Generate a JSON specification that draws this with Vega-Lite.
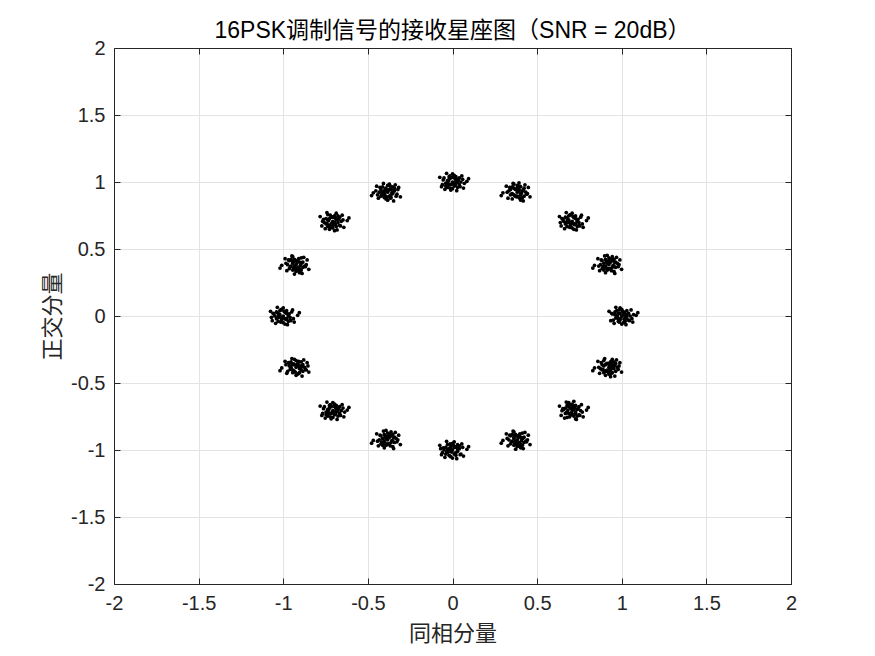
{
"$schema": "https://vega.github.io/schema/vega-lite/v6.json",
"width": 677, "height": 536,
"autosize": {"type": "none"},
"padding": {"left": 114, "top": 48, "right": 84, "bottom": 72},
"background": "white",
"title": {"text": "16PSK调制信号的接收星座图（SNR = 20dB）", "font": "Liberation Sans, Noto Sans CJK SC", "fontSize": 23, "fontWeight": "normal", "color": "#000000", "anchor": "middle", "offset": -5},
"config": {"view": {"stroke": null}, "axis": {"domainColor": "#262626", "tickColor": "#262626", "labelColor": "#262626", "labelFont": "Liberation Sans", "labelFontSize": 20, "labelFlush": false, "gridColor": "#e3e3e3", "gridWidth": 1, "tickSize": -6, "titleFont": "Noto Sans CJK SC", "titleFontSize": 22, "titleFontWeight": "normal", "titleColor": "#262626", "labelExpr": "'' + datum.value"}},
"data": {"values": [
{"x":1,"y":0},{"x":1.02,"y":0.01},{"x":0.98,"y":0.02},{"x":1.03,"y":-0.02},{"x":0.97,"y":-0.01},{"x":1.01,"y":0.03},{"x":0.99,"y":-0.03},{"x":1.04,"y":0.02},{"x":0.96,"y":0.01},{"x":1.02,"y":-0.04},{"x":0.98,"y":-0.02},{"x":1.05,"y":0},{"x":0.95,"y":-0.03},{"x":1,"y":0.05},{"x":1.01,"y":-0.05},{"x":0.97,"y":0.04},{"x":1.03,"y":0.04},{"x":1.06,"y":-0.02},{"x":0.94,"y":0.02},{"x":1.01,"y":0.01},{"x":0.99,"y":0.02},{"x":1.02,"y":-0.01},{"x":0.98,"y":-0.04},{"x":1.04,"y":-0.03},{"x":0.96,"y":0.03},{"x":1.07,"y":0.01},{"x":0.99,"y":0.06},{"x":1,"y":-0.06},{"x":1.03,"y":0},{"x":0.97,"y":0},
{"x":0.924,"y":0.383},{"x":0.914,"y":0.403},{"x":0.904,"y":0.363},{"x":0.944,"y":0.413},{"x":0.934,"y":0.353},{"x":0.894,"y":0.393},{"x":0.954,"y":0.373},{"x":0.904,"y":0.423},{"x":0.914,"y":0.343},{"x":0.964,"y":0.403},{"x":0.944,"y":0.363},{"x":0.924,"y":0.433},{"x":0.954,"y":0.333},{"x":0.874,"y":0.383},{"x":0.974,"y":0.393},{"x":0.884,"y":0.353},{"x":0.884,"y":0.413},{"x":0.944,"y":0.443},{"x":0.904,"y":0.323},{"x":0.914,"y":0.393},{"x":0.904,"y":0.373},{"x":0.934,"y":0.403},{"x":0.964,"y":0.363},{"x":0.954,"y":0.423},{"x":0.894,"y":0.343},{"x":0.914,"y":0.453},{"x":0.864,"y":0.373},{"x":0.984,"y":0.383},{"x":0.924,"y":0.413},{"x":0.924,"y":0.353},
{"x":0.707,"y":0.707},{"x":0.687,"y":0.697},{"x":0.727,"y":0.687},{"x":0.677,"y":0.727},{"x":0.737,"y":0.717},{"x":0.697,"y":0.677},{"x":0.717,"y":0.737},{"x":0.667,"y":0.687},{"x":0.747,"y":0.697},{"x":0.687,"y":0.747},{"x":0.727,"y":0.727},{"x":0.657,"y":0.707},{"x":0.757,"y":0.737},{"x":0.707,"y":0.657},{"x":0.697,"y":0.757},{"x":0.737,"y":0.667},{"x":0.677,"y":0.667},{"x":0.647,"y":0.727},{"x":0.767,"y":0.687},{"x":0.697,"y":0.697},{"x":0.717,"y":0.687},{"x":0.687,"y":0.717},{"x":0.727,"y":0.747},{"x":0.667,"y":0.737},{"x":0.747,"y":0.677},{"x":0.637,"y":0.697},{"x":0.717,"y":0.647},{"x":0.707,"y":0.767},{"x":0.677,"y":0.707},{"x":0.737,"y":0.707},
{"x":0.383,"y":0.924},{"x":0.393,"y":0.944},{"x":0.403,"y":0.904},{"x":0.363,"y":0.954},{"x":0.373,"y":0.894},{"x":0.413,"y":0.934},{"x":0.353,"y":0.914},{"x":0.403,"y":0.964},{"x":0.393,"y":0.884},{"x":0.343,"y":0.944},{"x":0.363,"y":0.904},{"x":0.383,"y":0.974},{"x":0.353,"y":0.874},{"x":0.433,"y":0.924},{"x":0.333,"y":0.934},{"x":0.423,"y":0.894},{"x":0.423,"y":0.954},{"x":0.363,"y":0.984},{"x":0.403,"y":0.864},{"x":0.393,"y":0.934},{"x":0.403,"y":0.914},{"x":0.373,"y":0.944},{"x":0.343,"y":0.904},{"x":0.353,"y":0.964},{"x":0.413,"y":0.884},{"x":0.393,"y":0.994},{"x":0.443,"y":0.914},{"x":0.323,"y":0.924},{"x":0.383,"y":0.954},{"x":0.383,"y":0.894},
{"x":0,"y":1},{"x":0.02,"y":0.99},{"x":-0.02,"y":0.98},{"x":0.03,"y":1.02},{"x":-0.03,"y":1.01},{"x":0.01,"y":0.97},{"x":-0.01,"y":1.03},{"x":0.04,"y":0.98},{"x":-0.04,"y":0.99},{"x":0.02,"y":1.04},{"x":-0.02,"y":1.02},{"x":0.05,"y":1},{"x":-0.05,"y":1.03},{"x":0,"y":0.95},{"x":0.01,"y":1.05},{"x":-0.03,"y":0.96},{"x":0.03,"y":0.96},{"x":0.06,"y":1.02},{"x":-0.06,"y":0.98},{"x":0.01,"y":0.99},{"x":-0.01,"y":0.98},{"x":0.02,"y":1.01},{"x":-0.02,"y":1.04},{"x":0.04,"y":1.03},{"x":-0.04,"y":0.97},{"x":0.07,"y":0.99},{"x":-0.01,"y":0.94},{"x":0,"y":1.06},{"x":0.03,"y":1},{"x":-0.03,"y":1},
{"x":-0.383,"y":0.924},{"x":-0.403,"y":0.934},{"x":-0.363,"y":0.944},{"x":-0.413,"y":0.904},{"x":-0.353,"y":0.914},{"x":-0.393,"y":0.954},{"x":-0.373,"y":0.894},{"x":-0.423,"y":0.944},{"x":-0.343,"y":0.934},{"x":-0.403,"y":0.884},{"x":-0.363,"y":0.904},{"x":-0.433,"y":0.924},{"x":-0.333,"y":0.894},{"x":-0.383,"y":0.974},{"x":-0.393,"y":0.874},{"x":-0.353,"y":0.964},{"x":-0.413,"y":0.964},{"x":-0.443,"y":0.904},{"x":-0.323,"y":0.944},{"x":-0.393,"y":0.934},{"x":-0.373,"y":0.944},{"x":-0.403,"y":0.914},{"x":-0.363,"y":0.884},{"x":-0.423,"y":0.894},{"x":-0.343,"y":0.954},{"x":-0.453,"y":0.934},{"x":-0.373,"y":0.984},{"x":-0.383,"y":0.864},{"x":-0.413,"y":0.924},{"x":-0.353,"y":0.924},
{"x":-0.707,"y":0.707},{"x":-0.697,"y":0.687},{"x":-0.687,"y":0.727},{"x":-0.727,"y":0.677},{"x":-0.717,"y":0.737},{"x":-0.677,"y":0.697},{"x":-0.737,"y":0.717},{"x":-0.687,"y":0.667},{"x":-0.697,"y":0.747},{"x":-0.747,"y":0.687},{"x":-0.727,"y":0.727},{"x":-0.707,"y":0.657},{"x":-0.737,"y":0.757},{"x":-0.657,"y":0.707},{"x":-0.757,"y":0.697},{"x":-0.667,"y":0.737},{"x":-0.667,"y":0.677},{"x":-0.727,"y":0.647},{"x":-0.687,"y":0.767},{"x":-0.697,"y":0.697},{"x":-0.687,"y":0.717},{"x":-0.717,"y":0.687},{"x":-0.747,"y":0.727},{"x":-0.737,"y":0.667},{"x":-0.677,"y":0.747},{"x":-0.697,"y":0.637},{"x":-0.647,"y":0.717},{"x":-0.767,"y":0.707},{"x":-0.707,"y":0.677},{"x":-0.707,"y":0.737},
{"x":-0.924,"y":0.383},{"x":-0.934,"y":0.363},{"x":-0.944,"y":0.403},{"x":-0.904,"y":0.353},{"x":-0.914,"y":0.413},{"x":-0.954,"y":0.373},{"x":-0.894,"y":0.393},{"x":-0.944,"y":0.343},{"x":-0.934,"y":0.423},{"x":-0.884,"y":0.363},{"x":-0.904,"y":0.403},{"x":-0.924,"y":0.333},{"x":-0.894,"y":0.433},{"x":-0.974,"y":0.383},{"x":-0.874,"y":0.373},{"x":-0.964,"y":0.413},{"x":-0.964,"y":0.353},{"x":-0.904,"y":0.323},{"x":-0.944,"y":0.443},{"x":-0.934,"y":0.373},{"x":-0.944,"y":0.393},{"x":-0.914,"y":0.363},{"x":-0.884,"y":0.403},{"x":-0.894,"y":0.343},{"x":-0.954,"y":0.423},{"x":-0.934,"y":0.313},{"x":-0.984,"y":0.393},{"x":-0.864,"y":0.383},{"x":-0.924,"y":0.353},{"x":-0.924,"y":0.413},
{"x":-1,"y":0},{"x":-1.02,"y":-0.01},{"x":-0.98,"y":-0.02},{"x":-1.03,"y":0.02},{"x":-0.97,"y":0.01},{"x":-1.01,"y":-0.03},{"x":-0.99,"y":0.03},{"x":-1.04,"y":-0.02},{"x":-0.96,"y":-0.01},{"x":-1.02,"y":0.04},{"x":-0.98,"y":0.02},{"x":-1.05,"y":0},{"x":-0.95,"y":0.03},{"x":-1,"y":-0.05},{"x":-1.01,"y":0.05},{"x":-0.97,"y":-0.04},{"x":-1.03,"y":-0.04},{"x":-1.06,"y":0.02},{"x":-0.94,"y":-0.02},{"x":-1.01,"y":-0.01},{"x":-0.99,"y":-0.02},{"x":-1.02,"y":0.01},{"x":-0.98,"y":0.04},{"x":-1.04,"y":0.03},{"x":-0.96,"y":-0.03},{"x":-1.07,"y":-0.01},{"x":-0.99,"y":-0.06},{"x":-1,"y":0.06},{"x":-1.03,"y":0},{"x":-0.97,"y":0},
{"x":-0.924,"y":-0.383},{"x":-0.904,"y":-0.373},{"x":-0.944,"y":-0.363},{"x":-0.894,"y":-0.403},{"x":-0.954,"y":-0.393},{"x":-0.914,"y":-0.353},{"x":-0.934,"y":-0.413},{"x":-0.884,"y":-0.363},{"x":-0.964,"y":-0.373},{"x":-0.904,"y":-0.423},{"x":-0.944,"y":-0.403},{"x":-0.874,"y":-0.383},{"x":-0.974,"y":-0.413},{"x":-0.924,"y":-0.333},{"x":-0.914,"y":-0.433},{"x":-0.954,"y":-0.343},{"x":-0.894,"y":-0.343},{"x":-0.864,"y":-0.403},{"x":-0.984,"y":-0.363},{"x":-0.914,"y":-0.373},{"x":-0.934,"y":-0.363},{"x":-0.904,"y":-0.393},{"x":-0.944,"y":-0.423},{"x":-0.884,"y":-0.413},{"x":-0.964,"y":-0.353},{"x":-0.854,"y":-0.373},{"x":-0.934,"y":-0.323},{"x":-0.924,"y":-0.443},{"x":-0.894,"y":-0.383},{"x":-0.954,"y":-0.383},
{"x":-0.707,"y":-0.707},{"x":-0.687,"y":-0.717},{"x":-0.727,"y":-0.727},{"x":-0.677,"y":-0.687},{"x":-0.737,"y":-0.697},{"x":-0.697,"y":-0.737},{"x":-0.717,"y":-0.677},{"x":-0.667,"y":-0.727},{"x":-0.747,"y":-0.717},{"x":-0.687,"y":-0.667},{"x":-0.727,"y":-0.687},{"x":-0.657,"y":-0.707},{"x":-0.757,"y":-0.677},{"x":-0.707,"y":-0.757},{"x":-0.697,"y":-0.657},{"x":-0.737,"y":-0.747},{"x":-0.677,"y":-0.747},{"x":-0.647,"y":-0.687},{"x":-0.767,"y":-0.727},{"x":-0.697,"y":-0.717},{"x":-0.717,"y":-0.727},{"x":-0.687,"y":-0.697},{"x":-0.727,"y":-0.667},{"x":-0.667,"y":-0.677},{"x":-0.747,"y":-0.737},{"x":-0.637,"y":-0.717},{"x":-0.717,"y":-0.767},{"x":-0.707,"y":-0.647},{"x":-0.677,"y":-0.707},{"x":-0.737,"y":-0.707},
{"x":-0.383,"y":-0.924},{"x":-0.393,"y":-0.904},{"x":-0.403,"y":-0.944},{"x":-0.363,"y":-0.894},{"x":-0.373,"y":-0.954},{"x":-0.413,"y":-0.914},{"x":-0.353,"y":-0.934},{"x":-0.403,"y":-0.884},{"x":-0.393,"y":-0.964},{"x":-0.343,"y":-0.904},{"x":-0.363,"y":-0.944},{"x":-0.383,"y":-0.874},{"x":-0.353,"y":-0.974},{"x":-0.433,"y":-0.924},{"x":-0.333,"y":-0.914},{"x":-0.423,"y":-0.954},{"x":-0.423,"y":-0.894},{"x":-0.363,"y":-0.864},{"x":-0.403,"y":-0.984},{"x":-0.393,"y":-0.914},{"x":-0.403,"y":-0.934},{"x":-0.373,"y":-0.904},{"x":-0.343,"y":-0.944},{"x":-0.353,"y":-0.884},{"x":-0.413,"y":-0.964},{"x":-0.393,"y":-0.854},{"x":-0.443,"y":-0.934},{"x":-0.323,"y":-0.924},{"x":-0.383,"y":-0.894},{"x":-0.383,"y":-0.954},
{"x":0,"y":-1},{"x":-0.02,"y":-0.99},{"x":0.02,"y":-0.98},{"x":-0.03,"y":-1.02},{"x":0.03,"y":-1.01},{"x":-0.01,"y":-0.97},{"x":0.01,"y":-1.03},{"x":-0.04,"y":-0.98},{"x":0.04,"y":-0.99},{"x":-0.02,"y":-1.04},{"x":0.02,"y":-1.02},{"x":-0.05,"y":-1},{"x":0.05,"y":-1.03},{"x":0,"y":-0.95},{"x":-0.01,"y":-1.05},{"x":0.03,"y":-0.96},{"x":-0.03,"y":-0.96},{"x":-0.06,"y":-1.02},{"x":0.06,"y":-0.98},{"x":-0.01,"y":-0.99},{"x":0.01,"y":-0.98},{"x":-0.02,"y":-1.01},{"x":0.02,"y":-1.04},{"x":-0.04,"y":-1.03},{"x":0.04,"y":-0.97},{"x":-0.07,"y":-0.99},{"x":0.01,"y":-0.94},{"x":0,"y":-1.06},{"x":-0.03,"y":-1},{"x":0.03,"y":-1},
{"x":0.383,"y":-0.924},{"x":0.373,"y":-0.944},{"x":0.363,"y":-0.904},{"x":0.403,"y":-0.954},{"x":0.393,"y":-0.894},{"x":0.353,"y":-0.934},{"x":0.413,"y":-0.914},{"x":0.363,"y":-0.964},{"x":0.373,"y":-0.884},{"x":0.423,"y":-0.944},{"x":0.403,"y":-0.904},{"x":0.383,"y":-0.974},{"x":0.413,"y":-0.874},{"x":0.333,"y":-0.924},{"x":0.433,"y":-0.934},{"x":0.343,"y":-0.894},{"x":0.343,"y":-0.954},{"x":0.403,"y":-0.984},{"x":0.363,"y":-0.864},{"x":0.373,"y":-0.934},{"x":0.363,"y":-0.914},{"x":0.393,"y":-0.944},{"x":0.423,"y":-0.904},{"x":0.413,"y":-0.964},{"x":0.353,"y":-0.884},{"x":0.373,"y":-0.994},{"x":0.323,"y":-0.914},{"x":0.443,"y":-0.924},{"x":0.383,"y":-0.954},{"x":0.383,"y":-0.894},
{"x":0.707,"y":-0.707},{"x":0.717,"y":-0.687},{"x":0.727,"y":-0.727},{"x":0.687,"y":-0.677},{"x":0.697,"y":-0.737},{"x":0.737,"y":-0.697},{"x":0.677,"y":-0.717},{"x":0.727,"y":-0.667},{"x":0.717,"y":-0.747},{"x":0.667,"y":-0.687},{"x":0.687,"y":-0.727},{"x":0.707,"y":-0.657},{"x":0.677,"y":-0.757},{"x":0.757,"y":-0.707},{"x":0.657,"y":-0.697},{"x":0.747,"y":-0.737},{"x":0.747,"y":-0.677},{"x":0.687,"y":-0.647},{"x":0.727,"y":-0.767},{"x":0.717,"y":-0.697},{"x":0.727,"y":-0.717},{"x":0.697,"y":-0.687},{"x":0.667,"y":-0.727},{"x":0.677,"y":-0.667},{"x":0.737,"y":-0.747},{"x":0.717,"y":-0.637},{"x":0.767,"y":-0.717},{"x":0.647,"y":-0.707},{"x":0.707,"y":-0.677},{"x":0.707,"y":-0.737},
{"x":0.924,"y":-0.383},{"x":0.934,"y":-0.403},{"x":0.944,"y":-0.363},{"x":0.904,"y":-0.413},{"x":0.914,"y":-0.353},{"x":0.954,"y":-0.393},{"x":0.894,"y":-0.373},{"x":0.944,"y":-0.423},{"x":0.934,"y":-0.343},{"x":0.884,"y":-0.403},{"x":0.904,"y":-0.363},{"x":0.924,"y":-0.433},{"x":0.894,"y":-0.333},{"x":0.974,"y":-0.383},{"x":0.874,"y":-0.393},{"x":0.964,"y":-0.353},{"x":0.964,"y":-0.413},{"x":0.904,"y":-0.443},{"x":0.944,"y":-0.323},{"x":0.934,"y":-0.393},{"x":0.944,"y":-0.373},{"x":0.914,"y":-0.403},{"x":0.884,"y":-0.363},{"x":0.894,"y":-0.423},{"x":0.954,"y":-0.343},{"x":0.934,"y":-0.453},{"x":0.984,"y":-0.373},{"x":0.864,"y":-0.383},{"x":0.924,"y":-0.413},{"x":0.924,"y":-0.353},
{"x":1.015,"y":0.025},{"x":0.965,"y":-0.015},{"x":1.045,"y":-0.035},{"x":0.985,"y":0.045},{"x":1.085,"y":0.005},{"x":0.925,"y":0.035},{"x":1.025,"y":-0.065},{"x":0.955,"y":-0.055},{"x":1.055,"y":0.045},{"x":0.995,"y":-0.015},{"x":1.035,"y":0.015},{"x":0.975,"y":0.005},{"x":1.005,"y":0.035},{"x":0.945,"y":0.015},{"x":1.065,"y":-0.045},{"x":0.985,"y":-0.045},{"x":1.095,"y":0.025},{"x":0.965,"y":0.065},{"x":1.015,"y":-0.025},{"x":0.935,"y":-0.035},
{"x":0.909,"y":0.358},{"x":0.959,"y":0.398},{"x":0.879,"y":0.418},{"x":0.939,"y":0.338},{"x":0.839,"y":0.378},{"x":0.999,"y":0.348},{"x":0.899,"y":0.448},{"x":0.969,"y":0.438},{"x":0.869,"y":0.338},{"x":0.929,"y":0.398},{"x":0.889,"y":0.368},{"x":0.949,"y":0.378},{"x":0.919,"y":0.348},{"x":0.979,"y":0.368},{"x":0.859,"y":0.428},{"x":0.939,"y":0.428},{"x":0.829,"y":0.358},{"x":0.959,"y":0.318},{"x":0.909,"y":0.408},{"x":0.989,"y":0.418},
{"x":0.722,"y":0.732},{"x":0.672,"y":0.692},{"x":0.752,"y":0.672},{"x":0.692,"y":0.752},{"x":0.792,"y":0.712},{"x":0.632,"y":0.742},{"x":0.732,"y":0.642},{"x":0.662,"y":0.652},{"x":0.762,"y":0.752},{"x":0.702,"y":0.692},{"x":0.742,"y":0.722},{"x":0.682,"y":0.712},{"x":0.712,"y":0.742},{"x":0.652,"y":0.722},{"x":0.772,"y":0.662},{"x":0.692,"y":0.662},{"x":0.802,"y":0.732},{"x":0.672,"y":0.772},{"x":0.722,"y":0.682},{"x":0.642,"y":0.672},
{"x":0.368,"y":0.899},{"x":0.418,"y":0.939},{"x":0.338,"y":0.959},{"x":0.398,"y":0.879},{"x":0.298,"y":0.919},{"x":0.458,"y":0.889},{"x":0.358,"y":0.989},{"x":0.428,"y":0.979},{"x":0.328,"y":0.879},{"x":0.388,"y":0.939},{"x":0.348,"y":0.909},{"x":0.408,"y":0.919},{"x":0.378,"y":0.889},{"x":0.438,"y":0.909},{"x":0.318,"y":0.969},{"x":0.398,"y":0.969},{"x":0.288,"y":0.899},{"x":0.418,"y":0.859},{"x":0.368,"y":0.949},{"x":0.448,"y":0.959},
{"x":0.015,"y":1.025},{"x":-0.035,"y":0.985},{"x":0.045,"y":0.965},{"x":-0.015,"y":1.045},{"x":0.085,"y":1.005},{"x":-0.075,"y":1.035},{"x":0.025,"y":0.935},{"x":-0.045,"y":0.945},{"x":0.055,"y":1.045},{"x":-0.005,"y":0.985},{"x":0.035,"y":1.015},{"x":-0.025,"y":1.005},{"x":0.005,"y":1.035},{"x":-0.055,"y":1.015},{"x":0.065,"y":0.955},{"x":-0.015,"y":0.955},{"x":0.095,"y":1.025},{"x":-0.035,"y":1.065},{"x":0.015,"y":0.975},{"x":-0.065,"y":0.965},
{"x":-0.398,"y":0.899},{"x":-0.348,"y":0.939},{"x":-0.428,"y":0.959},{"x":-0.368,"y":0.879},{"x":-0.468,"y":0.919},{"x":-0.308,"y":0.889},{"x":-0.408,"y":0.989},{"x":-0.338,"y":0.979},{"x":-0.438,"y":0.879},{"x":-0.378,"y":0.939},{"x":-0.418,"y":0.909},{"x":-0.358,"y":0.919},{"x":-0.388,"y":0.889},{"x":-0.328,"y":0.909},{"x":-0.448,"y":0.969},{"x":-0.368,"y":0.969},{"x":-0.478,"y":0.899},{"x":-0.348,"y":0.859},{"x":-0.398,"y":0.949},{"x":-0.318,"y":0.959},
{"x":-0.692,"y":0.732},{"x":-0.742,"y":0.692},{"x":-0.662,"y":0.672},{"x":-0.722,"y":0.752},{"x":-0.622,"y":0.712},{"x":-0.782,"y":0.742},{"x":-0.682,"y":0.642},{"x":-0.752,"y":0.652},{"x":-0.652,"y":0.752},{"x":-0.712,"y":0.692},{"x":-0.672,"y":0.722},{"x":-0.732,"y":0.712},{"x":-0.702,"y":0.742},{"x":-0.762,"y":0.722},{"x":-0.642,"y":0.662},{"x":-0.722,"y":0.662},{"x":-0.612,"y":0.732},{"x":-0.742,"y":0.772},{"x":-0.692,"y":0.682},{"x":-0.772,"y":0.672},
{"x":-0.939,"y":0.358},{"x":-0.889,"y":0.398},{"x":-0.969,"y":0.418},{"x":-0.909,"y":0.338},{"x":-1.009,"y":0.378},{"x":-0.849,"y":0.348},{"x":-0.949,"y":0.448},{"x":-0.879,"y":0.438},{"x":-0.979,"y":0.338},{"x":-0.919,"y":0.398},{"x":-0.959,"y":0.368},{"x":-0.899,"y":0.378},{"x":-0.929,"y":0.348},{"x":-0.869,"y":0.368},{"x":-0.989,"y":0.428},{"x":-0.909,"y":0.428},{"x":-1.019,"y":0.358},{"x":-0.889,"y":0.318},{"x":-0.939,"y":0.408},{"x":-0.859,"y":0.418},
{"x":-0.985,"y":0.025},{"x":-1.035,"y":-0.015},{"x":-0.955,"y":-0.035},{"x":-1.015,"y":0.045},{"x":-0.915,"y":0.005},{"x":-1.075,"y":0.035},{"x":-0.975,"y":-0.065},{"x":-1.045,"y":-0.055},{"x":-0.945,"y":0.045},{"x":-1.005,"y":-0.015},{"x":-0.965,"y":0.015},{"x":-1.025,"y":0.005},{"x":-0.995,"y":0.035},{"x":-1.055,"y":0.015},{"x":-0.935,"y":-0.045},{"x":-1.015,"y":-0.045},{"x":-0.905,"y":0.025},{"x":-1.035,"y":0.065},{"x":-0.985,"y":-0.025},{"x":-1.065,"y":-0.035},
{"x":-0.939,"y":-0.408},{"x":-0.889,"y":-0.368},{"x":-0.969,"y":-0.348},{"x":-0.909,"y":-0.428},{"x":-1.009,"y":-0.388},{"x":-0.849,"y":-0.418},{"x":-0.949,"y":-0.318},{"x":-0.879,"y":-0.328},{"x":-0.979,"y":-0.428},{"x":-0.919,"y":-0.368},{"x":-0.959,"y":-0.398},{"x":-0.899,"y":-0.388},{"x":-0.929,"y":-0.418},{"x":-0.869,"y":-0.398},{"x":-0.989,"y":-0.338},{"x":-0.909,"y":-0.338},{"x":-1.019,"y":-0.408},{"x":-0.889,"y":-0.448},{"x":-0.939,"y":-0.358},{"x":-0.859,"y":-0.348},
{"x":-0.692,"y":-0.682},{"x":-0.742,"y":-0.722},{"x":-0.662,"y":-0.742},{"x":-0.722,"y":-0.662},{"x":-0.622,"y":-0.702},{"x":-0.782,"y":-0.672},{"x":-0.682,"y":-0.772},{"x":-0.752,"y":-0.762},{"x":-0.652,"y":-0.662},{"x":-0.712,"y":-0.722},{"x":-0.672,"y":-0.692},{"x":-0.732,"y":-0.702},{"x":-0.702,"y":-0.672},{"x":-0.762,"y":-0.692},{"x":-0.642,"y":-0.752},{"x":-0.722,"y":-0.752},{"x":-0.612,"y":-0.682},{"x":-0.742,"y":-0.642},{"x":-0.692,"y":-0.732},{"x":-0.772,"y":-0.742},
{"x":-0.398,"y":-0.949},{"x":-0.348,"y":-0.909},{"x":-0.428,"y":-0.889},{"x":-0.368,"y":-0.969},{"x":-0.468,"y":-0.929},{"x":-0.308,"y":-0.959},{"x":-0.408,"y":-0.859},{"x":-0.338,"y":-0.869},{"x":-0.438,"y":-0.969},{"x":-0.378,"y":-0.909},{"x":-0.418,"y":-0.939},{"x":-0.358,"y":-0.929},{"x":-0.388,"y":-0.959},{"x":-0.328,"y":-0.939},{"x":-0.448,"y":-0.879},{"x":-0.368,"y":-0.879},{"x":-0.478,"y":-0.949},{"x":-0.348,"y":-0.989},{"x":-0.398,"y":-0.899},{"x":-0.318,"y":-0.889},
{"x":0.015,"y":-0.975},{"x":-0.035,"y":-1.015},{"x":0.045,"y":-1.035},{"x":-0.015,"y":-0.955},{"x":0.085,"y":-0.995},{"x":-0.075,"y":-0.965},{"x":0.025,"y":-1.065},{"x":-0.045,"y":-1.055},{"x":0.055,"y":-0.955},{"x":-0.005,"y":-1.015},{"x":0.035,"y":-0.985},{"x":-0.025,"y":-0.995},{"x":0.005,"y":-0.965},{"x":-0.055,"y":-0.985},{"x":0.065,"y":-1.045},{"x":-0.015,"y":-1.045},{"x":0.095,"y":-0.975},{"x":-0.035,"y":-0.935},{"x":0.015,"y":-1.025},{"x":-0.065,"y":-1.035},
{"x":0.368,"y":-0.949},{"x":0.418,"y":-0.909},{"x":0.338,"y":-0.889},{"x":0.398,"y":-0.969},{"x":0.298,"y":-0.929},{"x":0.458,"y":-0.959},{"x":0.358,"y":-0.859},{"x":0.428,"y":-0.869},{"x":0.328,"y":-0.969},{"x":0.388,"y":-0.909},{"x":0.348,"y":-0.939},{"x":0.408,"y":-0.929},{"x":0.378,"y":-0.959},{"x":0.438,"y":-0.939},{"x":0.318,"y":-0.879},{"x":0.398,"y":-0.879},{"x":0.288,"y":-0.949},{"x":0.418,"y":-0.989},{"x":0.368,"y":-0.899},{"x":0.448,"y":-0.889},
{"x":0.722,"y":-0.682},{"x":0.672,"y":-0.722},{"x":0.752,"y":-0.742},{"x":0.692,"y":-0.662},{"x":0.792,"y":-0.702},{"x":0.632,"y":-0.672},{"x":0.732,"y":-0.772},{"x":0.662,"y":-0.762},{"x":0.762,"y":-0.662},{"x":0.702,"y":-0.722},{"x":0.742,"y":-0.692},{"x":0.682,"y":-0.702},{"x":0.712,"y":-0.672},{"x":0.652,"y":-0.692},{"x":0.772,"y":-0.752},{"x":0.692,"y":-0.752},{"x":0.802,"y":-0.682},{"x":0.672,"y":-0.642},{"x":0.722,"y":-0.732},{"x":0.642,"y":-0.742},
{"x":0.909,"y":-0.408},{"x":0.959,"y":-0.368},{"x":0.879,"y":-0.348},{"x":0.939,"y":-0.428},{"x":0.839,"y":-0.388},{"x":0.999,"y":-0.418},{"x":0.899,"y":-0.318},{"x":0.969,"y":-0.328},{"x":0.869,"y":-0.428},{"x":0.929,"y":-0.368},{"x":0.889,"y":-0.398},{"x":0.949,"y":-0.388},{"x":0.919,"y":-0.418},{"x":0.979,"y":-0.398},{"x":0.859,"y":-0.338},{"x":0.939,"y":-0.338},{"x":0.829,"y":-0.408},{"x":0.959,"y":-0.448},{"x":0.909,"y":-0.358},{"x":0.989,"y":-0.348}
]},
"layer": [
{"mark": {"type": "circle", "size": 14, "color": "#000000", "opacity": 1},
 "encoding": {
  "x": {"field": "x", "type": "quantitative", "scale": {"domain": [-2, 2], "nice": false}, "axis": {"title": "同相分量", "values": [-2,-1.5,-1,-0.5,0,0.5,1,1.5,2], "labelPadding": 15, "titlePadding": 10}},
  "y": {"field": "y", "type": "quantitative", "scale": {"domain": [-2, 2], "nice": false}, "axis": {"title": "正交分量", "values": [-2,-1.5,-1,-0.5,0,0.5,1,1.5,2], "labelPadding": 15, "titlePadding": 6}}
 }},
{"mark": {"type": "circle", "size": 0, "opacity": 0},
 "encoding": {
  "x": {"field": "x", "type": "quantitative", "axis": {"orient": "top", "title": null, "labels": false, "grid": false, "values": [-2,-1.5,-1,-0.5,0,0.5,1,1.5,2]}},
  "y": {"field": "y", "type": "quantitative", "axis": {"orient": "right", "title": null, "labels": false, "grid": false, "values": [-2,-1.5,-1,-0.5,0,0.5,1,1.5,2]}}
 }}
],
"resolve": {"axis": {"x": "independent", "y": "independent"}}
}
